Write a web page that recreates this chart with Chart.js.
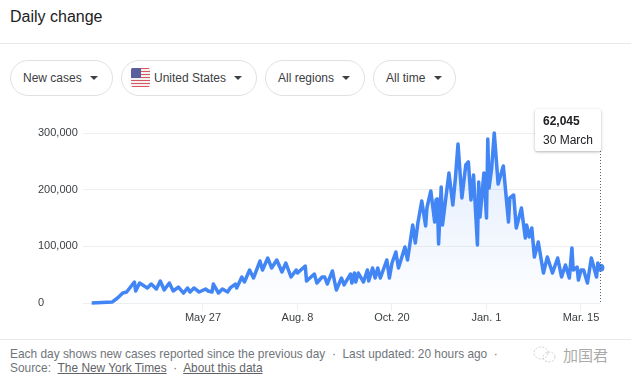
<!DOCTYPE html>
<html>
<head>
<meta charset="utf-8">
<title>Daily change</title>
<script src="https://cdn.jsdelivr.net/npm/chart.js@4"></script>
<style>
  html, body { margin: 0; padding: 0; background: #fff; }
  body { width: 631px; height: 383px; position: relative; overflow: hidden; font-family: 'Liberation Sans', Arial, sans-serif; color: #3c4043; }
  .abs { position: absolute; white-space: nowrap; }
  .title { left: 10px; top: 7px; font-size: 16px; line-height: 20px; color: #202124; }
  .rule { left: 0; width: 631px; height: 1px; background: #e8e8e8; }
  .pill { top: 60px; height: 34px; box-sizing: content-box; border: 1px solid #dfe1e5; border-radius: 18px; font-size: 12px; line-height: 34px; color: #3c4043; }
  .pill span { position: absolute; top: 0; }
  .pill i { position: absolute; top: 15px; width: 0; height: 0; border-left: 4px solid transparent; border-right: 4px solid transparent; border-top: 4px solid #3c4043; }
  .flag { left: 9px; top: 7px; width: 19px; height: 19px; position: absolute; border-radius: 2px; background: repeating-linear-gradient(#d9555f 0, #d9555f 1.46px, #f6f1f1 1.46px, #f6f1f1 2.92px); overflow: hidden; }
  .flag b { position: absolute; left: 0; top: 0; width: 10px; height: 10px; background: #5a5f9e; }
  #chart { position: absolute; left: 0; top: 100px; }
  .tip { left: 535px; top: 109px; width: 66px; height: 42px; background: #fff; border-radius: 2px; box-shadow: 0 1px 3px rgba(0,0,0,.3); font-size: 12px; color: #202124; }
  .tip div { position: absolute; left: 8px; line-height: 14px; }
  .foot { left: 10px; font-size: 11.9px; line-height: 14px; color: #70757a; }
  .foot u { color: #5f6368; }
  .mark { left: 563px; top: 346px; font-family: 'Noto Sans CJK SC'; font-size: 15px; line-height: 18px; color: #aaaaaa; }
</style>
</head>
<body>
<div class="abs title">Daily change</div>
<div class="abs rule" style="top:43px"></div>

<div class="abs pill" style="left:10px;width:101px"><span style="left:12px">New cases</span><i style="left:79px"></i></div>
<div class="abs pill" style="left:121px;width:134px"><div class="flag"><b></b></div><span style="left:32px">United States</span><i style="left:112px"></i></div>
<div class="abs pill" style="left:265px;width:98px"><span style="left:12px">All regions</span><i style="left:76px"></i></div>
<div class="abs pill" style="left:373px;width:81px"><span style="left:12px">All time</span><i style="left:60px"></i></div>

<canvas id="chart" width="631" height="235"></canvas>

<div class="abs tip"><div style="top:5px;font-weight:bold">62,045</div><div style="top:24px">30 March</div></div>

<div class="abs rule" style="top:339px"></div>
<div class="abs foot" style="top:347px">Each day shows new cases reported since the previous day &nbsp;&middot;&nbsp; Last updated: 20 hours ago &nbsp;&middot;</div>
<div class="abs foot" style="top:361px">Source: &nbsp;<u>The New York Times</u> &nbsp;&middot;&nbsp; <u>About this data</u></div>

<svg class="abs" style="left:533px;top:346px" width="24" height="18" viewBox="0 0 24 18" fill="none" stroke="#cfcfcf" stroke-width="1" stroke-dasharray="2 1.5">
  <ellipse cx="8" cy="7" rx="7" ry="6"/>
  <ellipse cx="16" cy="11" rx="6" ry="5"/>
</svg>
<div class="abs mark">加国君</div>

<script>
const days = [-86, -70, -66, -62, -59, -56, -53, -52, -49, -43, -40, -36, -33, -30, -26, -23, -19, -15, -12, -10, -7, -3,
  2, 4, 7, 8, 12, 15, 19, 21, 25, 26, 30, 32, 36, 39, 44, 46, 50, 53, 57, 61, 64, 68, 72, 73, 79, 80, 86, 88, 92, 94, 96,
  100, 103, 107, 109, 114, 115, 117, 118, 120, 124, 127, 128, 131, 133, 135, 137, 142, 144, 146, 149, 151, 156, 158,
  162, 164, 166, 169, 172, 173, 176, 179, 180, 181, 182, 184, 185, 190, 193, 195, 197, 200, 203, 205, 207, 209, 212,
  213, 214, 217, 219, 220, 221, 223, 225, 228, 232, 236, 237, 240, 242, 246, 249, 250, 252, 254, 256, 259, 263, 266,
  270, 274, 277, 280, 283, 285, 286, 289, 290, 292, 294, 297, 300, 304, 305, 307];
const cases = [0, 1800, 8800, 17600, 19400, 28200, 37000, 21200, 35300, 26500, 33500, 24700, 38800, 22900, 35300, 21200, 28200, 17600, 26500, 19400, 26500, 19400,
  24700, 21200, 19400, 33500, 17600, 24700, 19400, 26500, 33500, 26500, 45900, 37000, 58200, 44100, 74100, 58200, 79400, 61800, 75900, 54700, 70600, 45900, 58200, 52900, 65300, 38800, 51200, 35300, 45900, 45900, 33500,
  56500, 22900, 44100, 31800, 51200, 35300, 52900, 37000, 52900, 37000, 58200, 38800, 61800, 44100, 61800, 44100, 75900, 44100, 70600, 90000, 61800, 98800, 75900,
  137700, 105900, 141200, 180000, 135900, 167700, 197700, 143000, 181800, 183600, 104100, 204700, 137700, 229500, 173000, 220600, 280600, 185300, 243600, 248900, 181800, 225900, 102400,
  213600, 151800, 229500, 150000, 289500, 203000, 238300, 300000, 210000, 241800, 143000, 185300, 190600, 132400, 167700, 114700, 137700, 116500, 132400, 81200, 107700, 53000, 81200,
  53000, 79400, 45900, 67100, 44100, 97100, 58200, 63500, 40600, 58200, 58200, 35300, 79400, 45900, 70600, 62045];
const tickDays = [0, 73, 146, 219, 292];
const tickLabels = ['May 27', 'Aug. 8', 'Oct. 20', 'Jan. 1', 'Mar. 15'];
const yTicks = [0, 100000, 200000, 300000];

const blue = '#4285f4';
const lastIndex = days.length - 1;

const areaFill = (ctx) => {
  const area = ctx.chart.chartArea;
  if (!area) return 'rgba(66,133,244,0.08)';
  const g = ctx.chart.ctx.createLinearGradient(0, area.top, 0, area.bottom);
  g.addColorStop(0, 'rgba(66,133,244,0.16)');
  g.addColorStop(1, 'rgba(66,133,244,0.01)');
  return g;
};

// dotted line under the tooltip box
const cursorLine = {
  id: 'cursorLine',
  afterDatasetsDraw(chart) {
    const point = chart.getDatasetMeta(0).data[lastIndex];
    const c = chart.ctx;
    c.save();
    c.strokeStyle = '#5f6368';
    c.lineWidth = 1;
    c.setLineDash([1, 2]);
    c.beginPath();
    c.moveTo(Math.round(point.x) + 0.5, chart.chartArea.top + 18);
    c.lineTo(Math.round(point.x) + 0.5, chart.chartArea.bottom);
    c.stroke();
    c.restore();
  },
};

new Chart(document.getElementById('chart').getContext('2d'), {
  type: 'line',
  data: {
    datasets: [
      {
        data: days.map((d, i) => ({ x: d, y: cases[i] })),
        borderColor: blue,
        borderWidth: 3.5,
        borderJoinStyle: 'round',
        tension: 0,
        fill: 'origin',
        backgroundColor: areaFill,
        clip: false,
        pointRadius: (ctx) => (ctx.dataIndex === lastIndex ? 4 : 0),
        pointBackgroundColor: blue,
        pointBorderWidth: 0,
      },
    ],
  },
  options: {
    responsive: false,
    animation: false,
    layout: { padding: { left: 38, right: 30.6, top: 33, bottom: 0 } },
    plugins: { legend: { display: false }, tooltip: { enabled: false } },
    scales: {
      x: {
        type: 'linear',
        min: -92.7,
        max: 307,
        afterBuildTicks: (scale) => { scale.ticks = tickDays.map((v) => ({ value: v })); },
        afterFit: (scale) => { scale.height = 32; },
        grid: { drawOnChartArea: false, color: '#eeeeee', tickLength: 8 },
        border: { display: false },
        ticks: {
          autoSkip: false,
          maxRotation: 0,
          padding: 0,
          color: '#3c4043',
          font: { family: 'Liberation Sans', size: 11 },
          callback: (value) => tickLabels[tickDays.indexOf(value)],
        },
      },
      y: {
        min: 0,
        max: 300000,
        afterBuildTicks: (scale) => { scale.ticks = yTicks.map((v) => ({ value: v })); },
        afterFit: (scale) => { scale.width = 45; },
        grid: { color: '#eeeeee', drawTicks: false },
        border: { display: false },
        ticks: {
          crossAlign: 'far',
          padding: 0,
          color: '#3c4043',
          font: { family: 'Liberation Sans', size: 11 },
          callback: (value) => value.toLocaleString('en-US'),
        },
      },
    },
  },
  plugins: [cursorLine],
});
</script>
</body>
</html>
